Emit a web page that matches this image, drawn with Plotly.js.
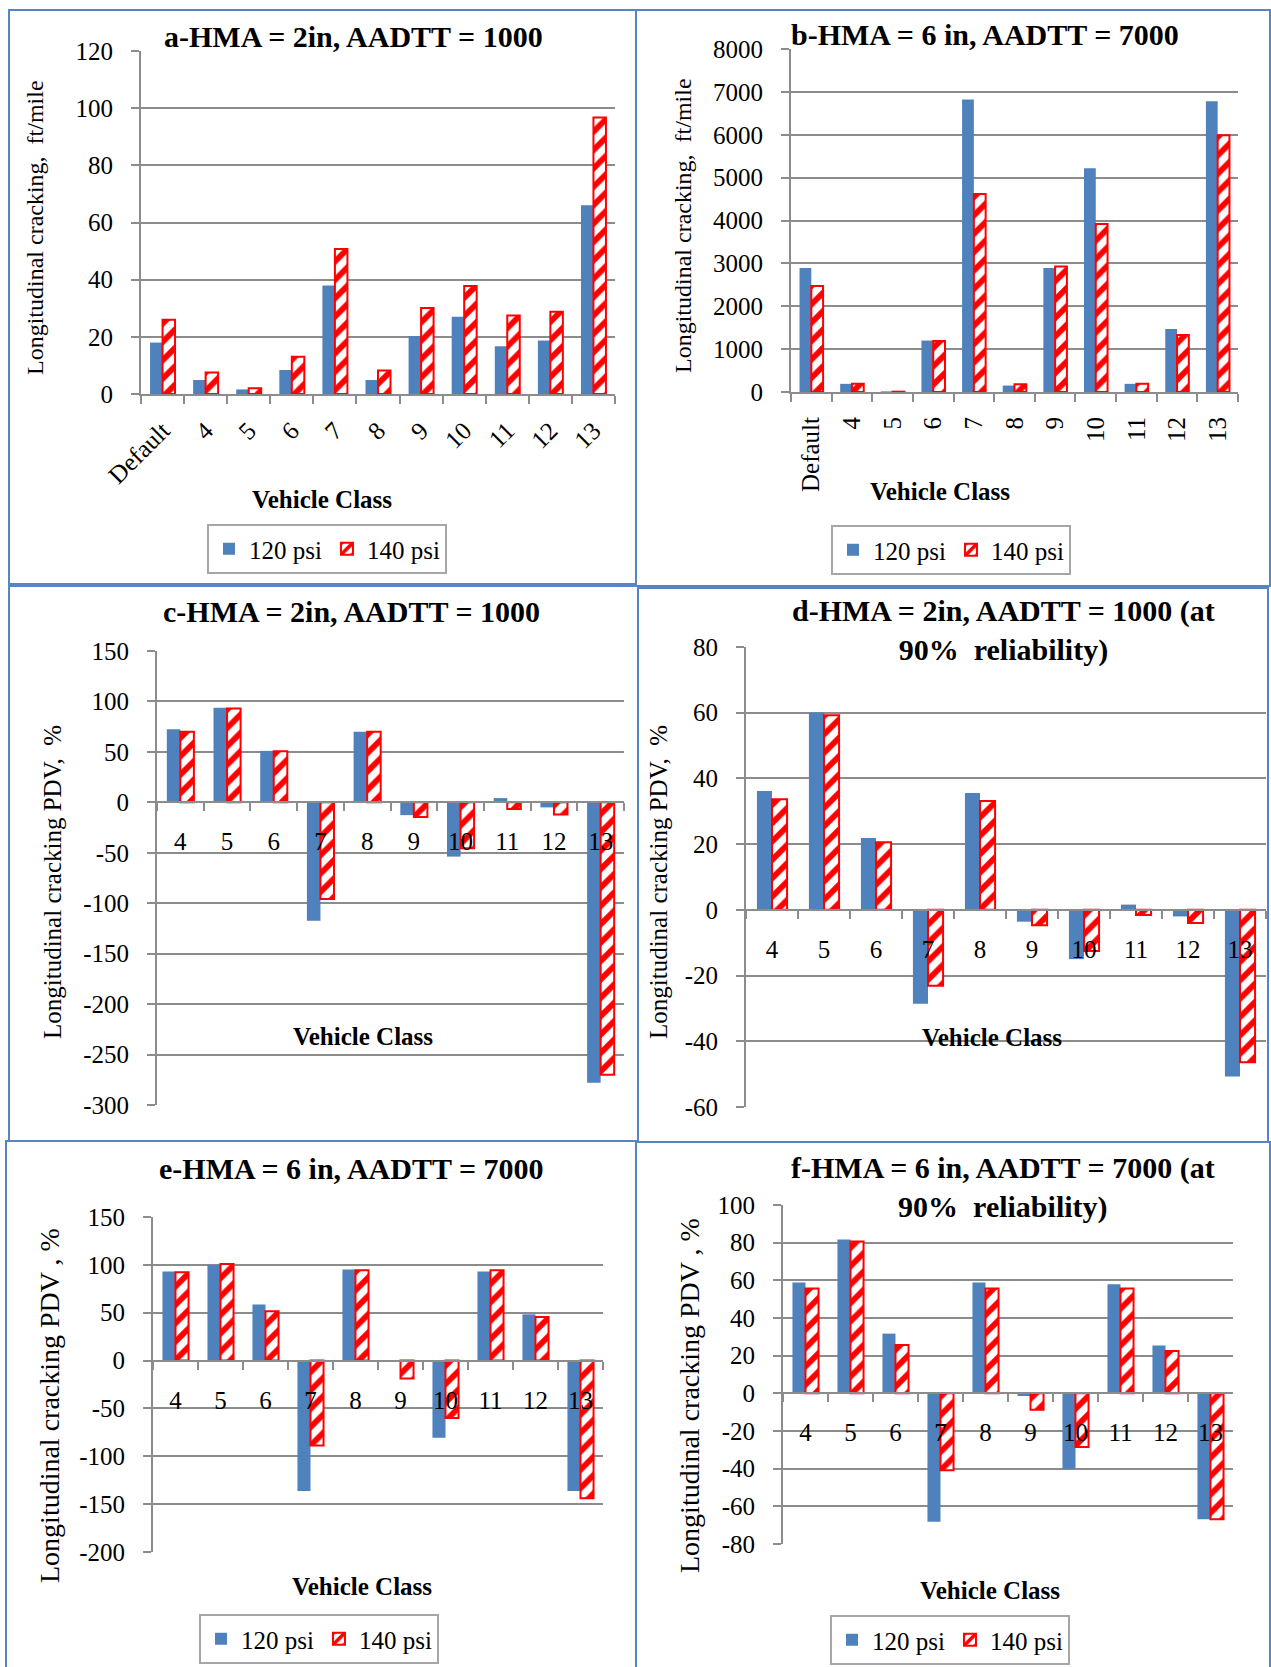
<!DOCTYPE html>
<html>
<head>
<meta charset="utf-8">
<script src="https://cdn.plot.ly/plotly-3.0.1.min.js"></script>
<style>
html,body{margin:0;padding:0;background:#fff;}
#chart{width:1271px;height:1667px;}
</style>
</head>
<body>
<div id="chart"></div>
<script>
// ---------------- DATA ----------------
const classesAB = ['Default', '4', '5', '6', '7', '8', '9', '10', '11', '12', '13'];
const classesCF = ['4', '5', '6', '7', '8', '9', '10', '11', '12', '13'];
const seriesNames = ['120 psi', '140 psi'];

const a120 = [18, 4.9, 1.6, 8.4, 38, 4.9, 20.3, 27, 16.7, 18.7, 66];
const a140 = [26, 7.5, 2, 13, 50.7, 8.2, 30.1, 37.8, 27.5, 28.8, 96.7];

const b120 = [2890, 190, 15, 1200, 6820, 150, 2890, 5220, 190, 1470, 6780];
const b140 = [2470, 190, 8, 1190, 4620, 180, 2930, 3920, 190, 1330, 5990];

const c120 = [72.5, 93.7, 51, -117.4, 70, -12.7, -53.8, 4.2, -5, -278];
const c140 = [70, 93, 50.6, -95.9, 70, -14.5, -45.6, -6.7, -12, -270];

const d120 = [36.2, 60.1, 21.9, -28.6, 35.6, -3.6, -15, 1.6, -2, -50.7];
const d140 = [33.7, 59.2, 20.6, -23.1, 33.1, -4.7, -12.5, -1.6, -4, -46.4];

const e120 = [93, 100, 58.6, -136.3, 95.1, 0, -80.6, 93, 48.3, -136.3];
const e140 = [92.3, 100.8, 51.5, -88.7, 94.4, -18.8, -60, 94.4, 45.4, -143.8];

const f120 = [58.8, 81.7, 31.7, -68.2, 58.8, -1.4, -40.2, 57.9, 25.4, -66.9];
const f140 = [55.7, 80.6, 25.6, -40.8, 55.7, -8.7, -28.5, 55.7, 22.5, -66.9];

// y tick values (tick labels written with a plain hyphen, as in the original)
const aTicks = [0, 20, 40, 60, 80, 100, 120];
const bTicks = [0, 1000, 2000, 3000, 4000, 5000, 6000, 7000, 8000];
const cTicks = [-300, -250, -200, -150, -100, -50, 0, 50, 100, 150];
const dTicks = [-60, -40, -20, 0, 20, 40, 60, 80];
const eTicks = [-200, -150, -100, -50, 0, 50, 100, 150];
const fTicks = [-80, -60, -40, -20, 0, 20, 40, 60, 80, 100];

const titles = [
  'a-HMA = 2in, AADTT = 1000',
  'b-HMA = 6 in, AADTT = 7000',
  'c-HMA = 2in, AADTT = 1000',
  'd-HMA = 2in, AADTT = 1000 (at<br>90%&nbsp;&nbsp;reliability)',
  'e-HMA = 6 in, AADTT = 7000',
  'f-HMA = 6 in, AADTT = 7000 (at<br>90%&nbsp;&nbsp;reliability)'
];
const yTitles = [
  'Longitudinal cracking,&nbsp;&nbsp;ft/mile',
  'Longitudinal cracking,&nbsp;&nbsp;ft/mile',
  'Longitudinal cracking PDV,&nbsp;&nbsp;%',
  'Longitudinal cracking PDV,&nbsp;&nbsp;%',
  'Longitudinal cracking PDV , %',
  'Longitudinal cracking PDV , %'
];
const xTitle = 'Vehicle Class';

// ---------------- LAYOUT HELPERS ----------------
const W = 1271, H = 1667;
const px = x => x / W;
const py = y => 1 - y / H;

const BLUE = '#4F81BD';
const RED = '#FF0000';
const GRID = '#8C8C8C';
const FONT = 'Liberation Serif';

const panels = [
  {key:'', cats: classesAB, v1: a120, v2: a140, ticks: aTicks, plot:[141, 51, 615, 394], zeroAxis:false, tickangle:-45, legend:'legend',
   title:[353, 36, 30], ytitle:[35, 228, 24], xtitle:[322, 500], leg:[207, 524], box:[9,10,636,584]},
  {key:'2', cats: classesAB, v1: b120, v2: b140, ticks: bTicks, plot:[791, 49, 1238, 392], zeroAxis:false, tickangle:-90, legend:'legend2',
   title:[985, 34, 30], ytitle:[683, 226, 24], xtitle:[940, 491], leg:[831, 525], box:[636,10,1270,586]},
  {key:'3', cats: classesCF, v1: c120, v2: c140, ticks: cTicks, plot:[157, 651, 624, 1105], zeroAxis:true, tickangle:0, legend:null,
   title:[351, 612, 30], ytitle:[52, 882, 25], xtitle:[363, 1036], leg:null, box:[9,586,638,1141]},
  {key:'4', cats: classesCF, v1: d120, v2: d140, ticks: dTicks, plot:[746, 647, 1266, 1107], zeroAxis:true, tickangle:0, legend:null,
   title:[1003, 631, 30], ytitle:[658, 882, 25], xtitle:[992, 1037], leg:null, box:[638,588,1268,1142]},
  {key:'5', cats: classesCF, v1: e120, v2: e140, ticks: eTicks, plot:[153, 1217, 603, 1552], zeroAxis:true, tickangle:0, legend:'legend3',
   title:[351, 1168, 30], ytitle:[49, 1406, 28], xtitle:[362, 1586], leg:[199, 1614], box:[6,1141,636,1700]},
  {key:'6', cats: classesCF, v1: f120, v2: f140, ticks: fTicks, plot:[783, 1205, 1233, 1544], zeroAxis:true, tickangle:0, legend:'legend4',
   title:[1003, 1187, 30], ytitle:[689, 1396, 28], xtitle:[990, 1590], leg:[830, 1615], box:[636,1142,1270,1700]}
];

const data = [];
const layout = {
  width: W, height: H,
  margin: {l:0, r:0, t:0, b:0},
  paper_bgcolor: 'white', plot_bgcolor: 'white',
  barmode: 'group', bargap: 0.42, bargroupgap: 0,
  font: {family: FONT, size: 25, color: 'black'},
  showlegend: true,
  annotations: [],
  shapes: []
};

panels.forEach((p, i) => {
  const xa = 'x' + p.key, ya = 'y' + p.key;
  const xName = 'xaxis' + p.key, yName = 'yaxis' + p.key;
  const [l, t, r, b] = p.plot;
  const yDom = [py(b), py(t)];
  const yRange = [p.ticks[0], p.ticks[p.ticks.length - 1]];
  const showLeg = !!p.legend;

  data.push({
    type: 'bar', name: seriesNames[0], x: p.cats, y: p.v1, xaxis: xa, yaxis: ya,
    marker: {color: BLUE, line: {width: 0}},
    showlegend: showLeg, legend: p.legend || 'legend', hoverinfo: 'skip'
  });
  data.push({
    type: 'bar', name: seriesNames[1], x: p.cats, y: p.v2, xaxis: xa, yaxis: ya,
    marker: {color: 'white', line: {color: RED, width: 2},
             pattern: {shape: '/', fgcolor: RED, bgcolor: 'white', size: 13, solidity: 0.45}},
    showlegend: showLeg, legend: p.legend || 'legend', hoverinfo: 'skip'
  });

  const xaxis = {
    domain: [px(l), px(r)], type: 'category',
    showline: true, linecolor: GRID, linewidth: 2,
    ticks: 'outside', tickson: 'boundaries', ticklen: 8, tickwidth: 2, tickcolor: GRID,
    showgrid: false, zeroline: false, fixedrange: true,
    tickangle: p.tickangle, tickfont: {family: FONT, size: 25, color: 'black'},
    ticklabelstandoff: p.zeroAxis ? 17 : (p.tickangle === -90 ? 13 : 10)
  };
  if (p.zeroAxis) {
    const zeroFrac = yDom[0] + (0 - yRange[0]) / (yRange[1] - yRange[0]) * (yDom[1] - yDom[0]);
    xaxis.anchor = 'free';
    xaxis.position = zeroFrac;
  } else {
    xaxis.anchor = ya;
  }
  layout[xName] = xaxis;
  layout[yName] = {
    domain: yDom, range: yRange, anchor: xa,
    tickmode: 'array', tickvals: p.ticks, ticktext: p.ticks.map(v => String(v)),
    showgrid: true, gridcolor: GRID, gridwidth: 2,
    showline: true, linecolor: GRID, linewidth: 2,
    ticks: 'outside', ticklen: 8, tickwidth: 2, tickcolor: GRID,
    zeroline: false, fixedrange: true, ticklabelstandoff: 13,
    tickfont: {family: FONT, size: 25, color: 'black'}
  };

  layout.annotations.push({
    xref: 'paper', yref: 'paper', x: px(p.title[0]), y: py(p.title[1]),
    xanchor: 'center', yanchor: 'middle', showarrow: false,
    text: titles[i], font: {family: FONT, size: p.title[2], weight: 'bold', color: 'black'}
  });
  layout.annotations.push({
    xref: 'paper', yref: 'paper', x: px(p.ytitle[0]), y: py(p.ytitle[1]),
    xanchor: 'center', yanchor: 'middle', showarrow: false, textangle: -90,
    text: yTitles[i], font: {family: FONT, size: p.ytitle[2], color: 'black'}
  });
  layout.annotations.push({
    xref: 'paper', yref: 'paper', x: px(p.xtitle[0]), y: py(p.xtitle[1]),
    xanchor: 'center', yanchor: 'middle', showarrow: false,
    text: xTitle, font: {family: FONT, size: 25, weight: 'bold', color: 'black'}
  });
  if (p.legend) {
    layout[p.legend] = {
      x: px(p.leg[0]), y: py(p.leg[1]), xanchor: 'left', yanchor: 'top',
      orientation: 'h', bgcolor: 'white', bordercolor: '#A6A6A6', borderwidth: 2,
      font: {family: FONT, size: 25, color: 'black'}, traceorder: 'normal'
    };
  }
  layout.shapes.push({
    type: 'rect', xref: 'paper', yref: 'paper', layer: 'above',
    x0: px(p.box[0]), x1: px(p.box[2]), y0: py(p.box[3]), y1: py(p.box[1]),
    line: {color: '#5585C5', width: 2}, fillcolor: 'rgba(0,0,0,0)'
  });
});

Plotly.newPlot('chart', data, layout, {displayModeBar: false, staticPlot: true});
</script>
</body>
</html>
